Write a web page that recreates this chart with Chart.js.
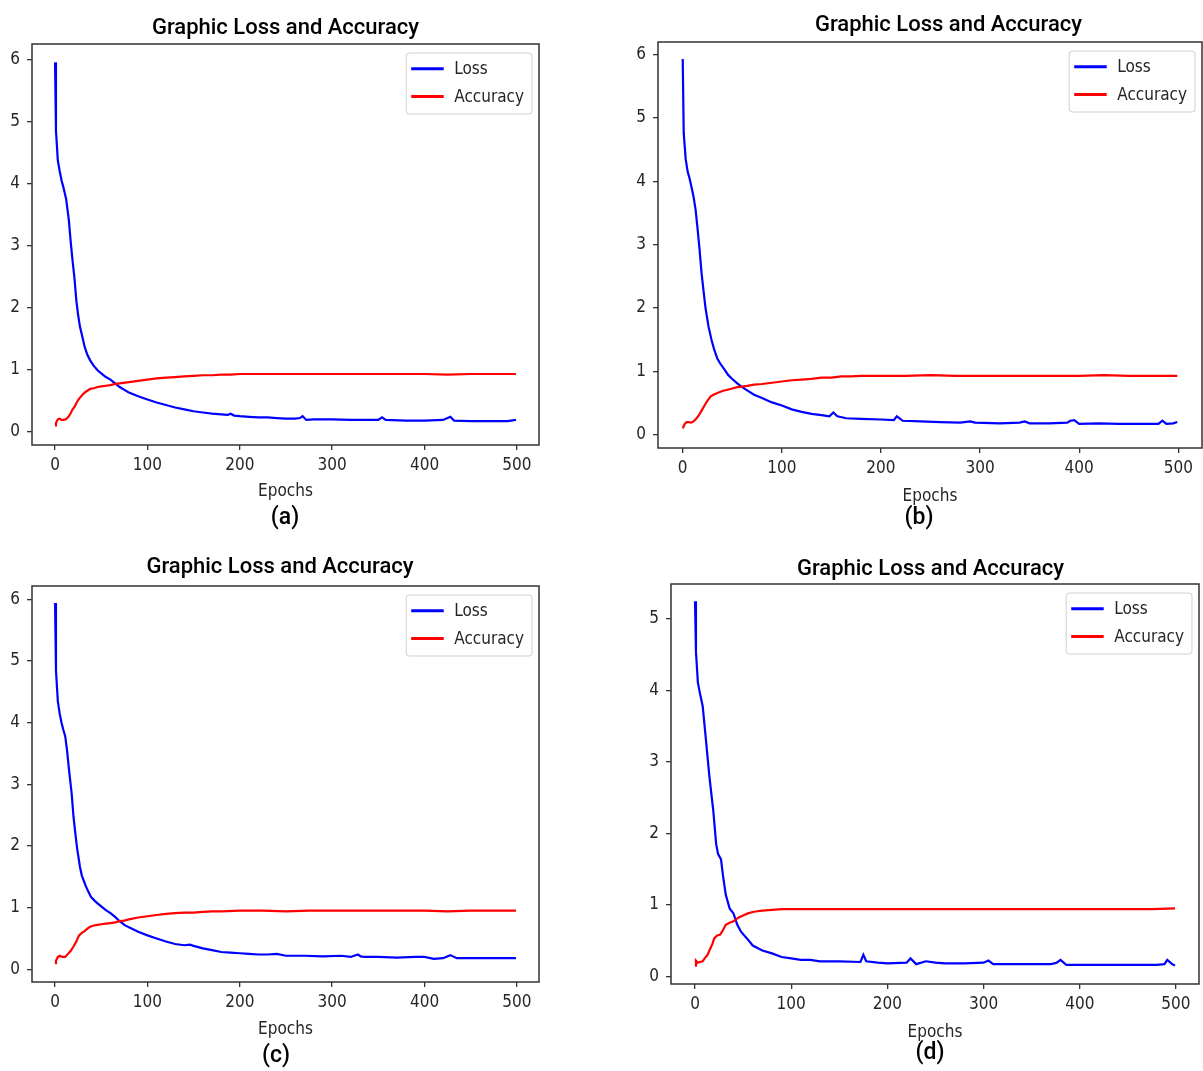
<!DOCTYPE html>
<html>
<head>
<meta charset="utf-8">
<script src="https://cdn.jsdelivr.net/npm/chart.js@4.4.1/dist/chart.umd.min.js"></script>
<style>
html,body{margin:0;padding:0;background:#fff;overflow:hidden;width:1203px;height:1071px;}
canvas{position:absolute;}
</style>
</head>
<body>
<canvas id="ca"></canvas>
<canvas id="cb"></canvas>
<canvas id="cc"></canvas>
<canvas id="cd"></canvas>
<script>
// ---------- shared labels / ticks ----------
const chartTitle = 'Graphic Loss and Accuracy';
const seriesNames = ['Loss', 'Accuracy'];
const xAxisLabel = 'Epochs';
const captions = ['(a)', '(b)', '(c)', '(d)'];
const xTicks = [0, 100, 200, 300, 400, 500];
const yTicksSix = [0, 1, 2, 3, 4, 5, 6];
const yTicksFive = [0, 1, 2, 3, 4, 5];

// ---------- panel (a) ----------
const lossEpochsA = [0,1,3,5,7,9,12,15,17,19,21,23,25,27,30,32,35,38,42,46,50,55,60,65,70,80,90,100,110,120,130,140,150,160,170,180,187,190,194,200,210,220,230,240,250,260,265,268,272,280,300,320,340,350,354,358,380,400,420,425,428,432,450,470,490,499];
const lossA = [5.95,4.85,4.37,4.2,4.05,3.94,3.75,3.4,3.05,2.75,2.48,2.12,1.88,1.69,1.5,1.37,1.24,1.15,1.06,0.99,0.94,0.88,0.84,0.78,0.72,0.63,0.57,0.52,0.47,0.43,0.39,0.36,0.33,0.31,0.29,0.28,0.27,0.29,0.26,0.25,0.24,0.23,0.23,0.22,0.21,0.21,0.22,0.25,0.19,0.2,0.2,0.19,0.19,0.19,0.23,0.19,0.18,0.18,0.19,0.22,0.24,0.18,0.17,0.17,0.17,0.19];
const accEpochsA = [0,1,3,5,7,9,12,15,17,19,21,23,25,27,30,32,35,38,42,46,50,55,60,65,70,80,90,100,110,120,130,140,150,160,170,180,190,200,225,250,275,300,325,350,375,400,425,450,475,499];
const accA = [0.10,0.14,0.20,0.21,0.19,0.19,0.20,0.25,0.30,0.36,0.40,0.46,0.51,0.55,0.60,0.63,0.66,0.69,0.70,0.72,0.73,0.74,0.75,0.77,0.78,0.80,0.82,0.84,0.86,0.87,0.88,0.89,0.90,0.91,0.91,0.92,0.92,0.93,0.93,0.93,0.93,0.93,0.93,0.93,0.93,0.93,0.92,0.93,0.93,0.93];

// ---------- panel (b) ----------
const lossEpochsB = [0,1,3,5,7,9,11,13,15,17,19,21,23,26,29,32,35,38,42,46,50,55,60,65,72,80,90,100,110,120,130,140,148,152,156,165,180,200,213,216,222,240,260,280,290,295,320,340,345,350,370,388,391,395,400,420,440,460,480,484,488,495,499];
const lossB = [5.93,4.76,4.35,4.15,4.04,3.9,3.75,3.55,3.25,2.92,2.55,2.27,2.0,1.71,1.5,1.33,1.2,1.12,1.03,0.94,0.88,0.81,0.75,0.7,0.63,0.58,0.51,0.46,0.4,0.36,0.33,0.31,0.29,0.35,0.29,0.26,0.25,0.24,0.23,0.29,0.22,0.21,0.2,0.19,0.21,0.19,0.18,0.19,0.21,0.18,0.18,0.19,0.22,0.23,0.17,0.18,0.17,0.17,0.17,0.22,0.17,0.18,0.2];
const accEpochsB = [0,2,4,6,8,10,13,16,19,22,25,28,31,35,40,45,50,55,60,65,72,80,90,100,110,120,130,140,150,160,170,180,200,225,250,275,300,325,350,375,400,425,450,475,499];
const accB = [0.1,0.17,0.2,0.2,0.19,0.2,0.24,0.3,0.38,0.46,0.54,0.6,0.63,0.66,0.69,0.71,0.73,0.75,0.76,0.77,0.79,0.8,0.82,0.84,0.86,0.87,0.88,0.9,0.9,0.92,0.92,0.93,0.93,0.93,0.94,0.93,0.93,0.93,0.93,0.93,0.93,0.94,0.93,0.93,0.93];

// ---------- panel (c) ----------
const lossEpochsC = [0,1,3,5,7,9,11,13,15,18,20,22,24,27,29,31,33,36,39,43,46,50,55,60,65,70,75,80,90,100,110,120,130,140,146,150,160,170,180,190,200,210,220,230,240,250,270,290,310,320,328,331,335,350,370,390,400,410,420,428,435,460,480,499];
const lossC = [5.94,4.85,4.35,4.15,4.0,3.88,3.78,3.55,3.25,2.85,2.47,2.2,1.95,1.66,1.52,1.44,1.36,1.26,1.17,1.11,1.07,1.02,0.96,0.91,0.85,0.78,0.72,0.68,0.61,0.55,0.5,0.45,0.41,0.39,0.4,0.38,0.34,0.31,0.28,0.27,0.26,0.25,0.24,0.24,0.25,0.22,0.22,0.21,0.22,0.2,0.24,0.21,0.2,0.2,0.19,0.2,0.2,0.17,0.18,0.23,0.18,0.18,0.18,0.18];
const accEpochsC = [0,1,3,5,8,11,14,17,20,23,26,29,32,35,38,42,46,50,55,60,65,70,75,80,90,100,110,120,130,140,150,160,170,180,200,225,250,275,300,325,350,375,400,425,450,475,499];
const accC = [0.1,0.14,0.2,0.22,0.2,0.2,0.25,0.3,0.37,0.45,0.55,0.59,0.62,0.66,0.69,0.71,0.72,0.73,0.74,0.75,0.76,0.78,0.79,0.81,0.84,0.86,0.88,0.9,0.91,0.92,0.92,0.93,0.94,0.94,0.95,0.95,0.94,0.95,0.95,0.95,0.95,0.95,0.95,0.94,0.95,0.95,0.95];

// ---------- panel (d) ----------
const lossEpochsD = [0,1,3,5,8,11,15,19,22,24,27,29,32,36,40,44,48,54,60,70,80,90,100,110,120,130,150,172,175,178,190,200,220,224,230,240,250,260,280,300,305,310,340,370,376,380,386,420,450,480,488,491,496,499];
const lossD = [5.25,4.54,4.11,3.97,3.78,3.36,2.79,2.32,1.85,1.71,1.64,1.42,1.14,0.95,0.88,0.72,0.62,0.53,0.43,0.36,0.32,0.27,0.25,0.23,0.23,0.21,0.21,0.2,0.3,0.21,0.19,0.18,0.19,0.25,0.17,0.21,0.19,0.18,0.18,0.19,0.22,0.17,0.17,0.17,0.19,0.23,0.16,0.16,0.16,0.16,0.17,0.23,0.17,0.15];
const accEpochsD = [0,1,3,5,8,10,13,15,18,20,23,26,28,32,36,40,45,50,55,60,65,70,80,90,100,125,150,175,200,225,250,275,300,325,350,375,400,425,450,475,499];
const accD = [0.15,0.22,0.19,0.2,0.21,0.25,0.3,0.36,0.45,0.53,0.57,0.58,0.62,0.72,0.75,0.77,0.82,0.85,0.88,0.9,0.91,0.92,0.93,0.94,0.94,0.94,0.94,0.94,0.94,0.94,0.94,0.94,0.94,0.94,0.94,0.94,0.94,0.94,0.94,0.94,0.95];

// ---------- styling / layout ----------
const TICK_FONT = "'DejaVu Sans Condensed','Liberation Sans Narrow','DejaVu Sans',sans-serif";
const TITLE_FONT = "Roboto,'DejaVu Sans',sans-serif";
const LOSS_COLOR = '#0000ff';
const ACC_COLOR = '#ff0000';
const AXIS_COLOR = '#333333';
const TEXT_COLOR = '#262626';

const panels = [
  {id:'ca', caption:captions[0], left:0,   top:0,   w:600, h:540, area:{l:32, t:44, r:539, b:445}, yMin:-0.214, yMax:6.246, yTicks:yTicksSix,
   lossX:lossEpochsA, lossY:lossA, accX:accEpochsA, accY:accA, titleX:285.5, titleY:34, capX:285, capY:518, epochsDy:47},
  {id:'cb', caption:captions[1], left:610, top:0,   w:593, h:540, area:{l:48, t:42, r:592, b:448}, yMin:-0.21, yMax:6.2, yTicks:yTicksSix,
   lossX:lossEpochsB, lossY:lossB, accX:accEpochsB, accY:accB, titleX:948.5, titleY:31, capX:919, capY:518, epochsDy:49},
  {id:'cc', caption:captions[2], left:0,   top:540, w:600, h:531, area:{l:32, t:46, r:539, b:442}, yMin:-0.206, yMax:6.216, yTicks:yTicksSix,
   lossX:lossEpochsC, lossY:lossC, accX:accEpochsC, accY:accC, titleX:280, titleY:573, capX:276, capY:1056, epochsDy:48},
  {id:'cd', caption:captions[3], left:610, top:540, w:593, h:531, area:{l:61, t:44, r:589, b:444}, yMin:-0.108, yMax:5.49, yTicks:yTicksFive,
   lossX:lossEpochsD, lossY:lossD, accX:accEpochsD, accY:accD, titleX:930.5, titleY:575, capX:930, capY:1053, epochsDy:49}
];

function rr(ctx, x, y, w, h, r) {
  ctx.beginPath();
  ctx.moveTo(x + r, y);
  ctx.lineTo(x + w - r, y); ctx.quadraticCurveTo(x + w, y, x + w, y + r);
  ctx.lineTo(x + w, y + h - r); ctx.quadraticCurveTo(x + w, y + h, x + w - r, y + h);
  ctx.lineTo(x + r, y + h); ctx.quadraticCurveTo(x, y + h, x, y + h - r);
  ctx.lineTo(x, y + r); ctx.quadraticCurveTo(x, y, x + r, y);
  ctx.closePath();
}

const decor = {
  id: 'decor',
  afterDatasetsDraw(chart, args, o) {
    const ctx = chart.ctx, a = chart.chartArea;
    ctx.save();
    // frame (all four spines)
    ctx.strokeStyle = AXIS_COLOR; ctx.lineWidth = 1.5;
    ctx.strokeRect(a.left, a.top, a.right - a.left, a.bottom - a.top);
    // legend box, entries taken from the chart's datasets
    ctx.font = '17px ' + TICK_FONT;
    const items = chart.data.datasets.map(d => ({label: d.label, color: d.borderColor}));
    const tw = Math.max(...items.map(i => ctx.measureText(i.label).width));
    const bw = 48 + tw + 8, bh = 61;
    const bx = a.right - 7 - bw, by = a.top + 9;
    rr(ctx, bx, by, bw, bh, 3);
    ctx.fillStyle = 'rgba(255,255,255,0.85)'; ctx.fill();
    ctx.strokeStyle = '#d0d0d0'; ctx.lineWidth = 1; ctx.stroke();
    items.forEach((it, i) => {
      const y = by + 15.7 + i * 27.7;
      ctx.strokeStyle = it.color; ctx.lineWidth = 3; ctx.lineCap = 'butt';
      ctx.beginPath(); ctx.moveTo(bx + 5, y); ctx.lineTo(bx + 37.5, y); ctx.stroke();
      ctx.fillStyle = TEXT_COLOR; ctx.textAlign = 'left'; ctx.textBaseline = 'middle';
      ctx.fillText(it.label, bx + 48, y + 1);
    });
    // title and caption
    ctx.fillStyle = '#000'; ctx.textAlign = 'center';
    ctx.font = '500 22px ' + TITLE_FONT; ctx.textBaseline = 'alphabetic';
    ctx.fillText(o.title, o.titleX, o.titleY);
    ctx.font = '500 23px ' + TITLE_FONT; ctx.textBaseline = 'middle';
    ctx.fillText(o.caption, o.capX, o.capY);
    ctx.restore();
  }
};

panels.forEach(p => {
  const cv = document.getElementById(p.id);
  cv.width = p.w; cv.height = p.h;
  cv.style.left = p.left + 'px'; cv.style.top = p.top + 'px';
  cv.style.width = p.w + 'px'; cv.style.height = p.h + 'px';
  const xAxisH = p.epochsDy + 10;
  new Chart(cv, {
    type: 'line',
    data: {
      datasets: [
        {label: seriesNames[0], data: p.lossX.map((x, i) => ({x: x, y: p.lossY[i]})),
         borderColor: LOSS_COLOR, borderWidth: 2.2, pointRadius: 0, tension: 0, fill: false, order: 2},
        {label: seriesNames[1], data: p.accX.map((x, i) => ({x: x, y: p.accY[i]})),
         borderColor: ACC_COLOR, borderWidth: 2.2, pointRadius: 0, tension: 0, fill: false, order: 1}
      ]
    },
    options: {
      responsive: false, animation: false, devicePixelRatio: 1,
      layout: {autoPadding: false, padding: {left: 0, top: p.area.t, right: p.w - p.area.r, bottom: p.h - p.area.b - xAxisH}},
      plugins: {
        legend: {display: false}, tooltip: {enabled: false}, title: {display: false},
        decor: {title: chartTitle, caption: p.caption,
                titleX: p.titleX - p.left, titleY: p.titleY - p.top, capX: p.capX - p.left, capY: p.capY - p.top}
      },
      scales: {
        x: {
          type: 'linear', min: -24.95, max: 523.95,
          afterBuildTicks: s => { s.ticks = xTicks.map(v => ({value: v})); },
          afterFit: s => { s.height = xAxisH; },
          grid: {display: true, drawOnChartArea: false, drawTicks: true, tickLength: 5, color: AXIS_COLOR, lineWidth: 1.3},
          border: {display: false},
          ticks: {font: {size: 17, family: TICK_FONT}, color: TEXT_COLOR, padding: 5, maxRotation: 0, autoSkip: false},
          title: {display: true, text: xAxisLabel, font: {size: 17, family: TICK_FONT, lineHeight: 1.2}, color: TEXT_COLOR, padding: 0}
        },
        y: {
          type: 'linear', min: p.yMin, max: p.yMax,
          afterBuildTicks: s => { s.ticks = p.yTicks.map(v => ({value: v})); },
          afterFit: s => { s.width = p.area.l; },
          grid: {display: true, drawOnChartArea: false, drawTicks: true, tickLength: 5, color: AXIS_COLOR, lineWidth: 1.3},
          border: {display: false},
          ticks: {font: {size: 17, family: TICK_FONT}, color: TEXT_COLOR, padding: 7, autoSkip: false}
        }
      }
    },
    plugins: [decor]
  });
});
</script>
</body>
</html>
